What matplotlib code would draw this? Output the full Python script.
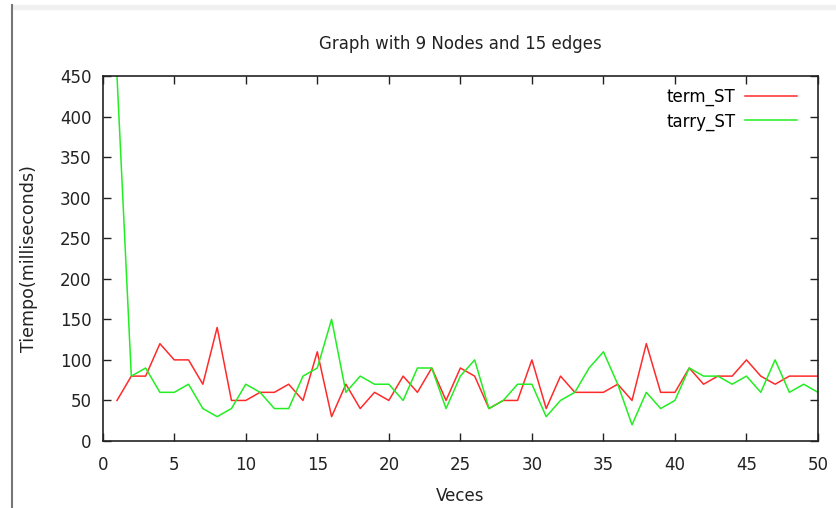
import matplotlib
matplotlib.use("Agg")
import matplotlib.pyplot as plt
from matplotlib.lines import Line2D

x = list(range(1, 51))
term_st = [50, 80, 80, 120, 100, 100, 70, 140, 50, 50,
           60, 60, 70, 50, 110, 30, 70, 40, 60, 50,
           80, 60, 90, 50, 90, 80, 40, 50, 50, 100,
           40, 80, 60, 60, 60, 70, 50, 120, 60, 60,
           90, 70, 80, 80, 100, 80, 70, 80, 80, 80]
tarry_st = [450, 80, 90, 60, 60, 70, 40, 30, 40, 70,
            60, 40, 40, 80, 90, 150, 60, 80, 70, 70,
            50, 90, 90, 40, 80, 100, 40, 50, 70, 70,
            30, 50, 60, 90, 110, 70, 20, 60, 40, 50,
            90, 80, 80, 70, 80, 60, 100, 60, 70, 60]

title = "Graph with 9 Nodes and 15 edges"
xlabel = "Veces"
ylabel = "Tiempo(milliseconds)"
xticks = [0, 5, 10, 15, 20, 25, 30, 35, 40, 45, 50]
yticks = [0, 50, 100, 150, 200, 250, 300, 350, 400, 450]

plt.rcParams['font.family'] = ['DejaVu Sans']
fig = plt.figure(figsize=(8.36, 5.08), dpi=100)
fig.patch.set_facecolor('white')
ax = fig.add_axes([102.7/836, 67/508, (818-102.7)/836, (441-76)/508])

ax.plot(x, term_st, color='#ff2a2a', lw=1.1, label='term_ST')
ax.plot(x, tarry_st, color='#22ee22', lw=1.1, label='tarry_ST')

ax.set_xlim(0, 50)
ax.set_ylim(0, 450)
ax.set_xticks(xticks)
ax.set_yticks(yticks)
ax.tick_params(direction='in', length=6, width=1, top=True, right=True,
               labelsize=12, colors='#222222')
ax.tick_params(axis='x', pad=11)
ax.tick_params(axis='y', pad=8)
for s in ax.spines.values():
    s.set_linewidth(1.2)
    s.set_color('#222222')

ax.set_title(title, fontsize=12, color='#222222', pad=19.5)
ax.set_xlabel(xlabel, fontsize=12, color='#222222', labelpad=9)
ax.set_ylabel(ylabel, fontsize=12.6, color='#222222', labelpad=16)

leg = ax.legend(loc='upper right', bbox_to_anchor=(0.980, 0.985),
                frameon=False, markerfirst=False,
                fontsize=12, handlelength=3.1, borderaxespad=0,
                labelspacing=0.35, handletextpad=0.6)

# window decorations
fig.add_artist(Line2D([11.5/836, 11.5/836], [0, 1 - 5/508], color='#777777', lw=1.5))
fig.patches.append(plt.Rectangle((13/836, 1 - 9/508), 1, 4/508,
                                 transform=fig.transFigure, color='#f0f0f0', zorder=0))

fig.savefig('out.png', dpi=100)
